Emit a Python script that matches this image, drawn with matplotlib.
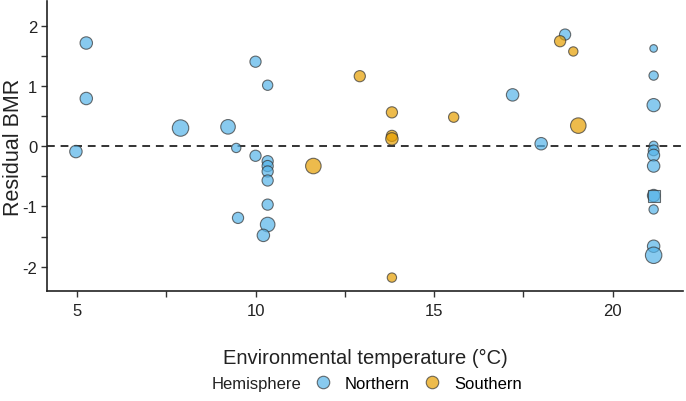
import matplotlib
matplotlib.use("Agg")
import matplotlib.pyplot as plt
from matplotlib.lines import Line2D

plt.rcParams['font.family'] = ['Liberation Sans', 'DejaVu Sans']

# Northern hemisphere points: temperature, residual BMR, relative size
north_temp = [4.97, 5.26, 5.26, 7.90, 9.23, 9.46, 10.0, 10.34, 10.0, 10.34, 10.34, 10.34,
              10.34, 10.34, 9.51, 10.34, 10.22, 17.20, 18.0, 18.67,
              21.15, 21.15, 21.15, 21.15, 21.15, 21.15, 21.15, 21.15, 21.15, 21.15, 21.15]
north_resid = [-0.09, 1.71, 0.79, 0.30, 0.32, -0.03, 1.40, 1.01, -0.16, -0.25, -0.33, -0.42,
               -0.57, -0.97, -1.19, -1.30, -1.48, 0.85, 0.04, 1.85,
               1.62, 1.17, 0.68, 0.01, -0.07, -0.15, -0.33, -0.82, -1.05, -1.66, -1.81]
north_size = [80, 80, 80, 140, 110, 45, 65, 55, 65, 65, 65, 65,
              65, 65, 65, 110, 80, 80, 80, 65,
              30, 45, 90, 40, 60, 75, 80, 80, 45, 80, 140]

# Southern hemisphere points
south_temp = [12.92, 13.82, 13.82, 13.82, 15.55, 11.62, 13.82, 18.53, 18.90, 19.04]
south_resid = [1.16, 0.56, 0.17, 0.12, 0.48, -0.33, -2.18, 1.74, 1.57, 0.34]
south_size = [65, 65, 65, 80, 55, 125, 45, 65, 45, 125]

# Square-shaped point
square_temp = [21.15]
square_resid = [-0.82]

x_ticks = [5, 10, 15, 20]
y_ticks = [-2, -1, 0, 1, 2]

blue = '#56B4E9'
orange = '#E69F00'

fig = plt.figure(figsize=(6.86, 4.02), dpi=100)
ax = fig.add_axes([0.0685, 0.274, 0.927, 0.72])

ax.axhline(0, color='#333333', lw=1.4, ls=(0, (4, 3)), zorder=1)

ax.scatter(north_temp, north_resid, s=north_size, c=blue, alpha=0.7,
           edgecolors='#333333', linewidths=0.8, zorder=3)
ax.scatter(south_temp, south_resid, s=south_size, c=orange, alpha=0.7,
           edgecolors='#333333', linewidths=0.8, zorder=3)
ax.scatter(square_temp, square_resid, s=80, marker='s', c=blue, alpha=0.7,
           edgecolors='#333333', linewidths=0.8, zorder=3)

ax.set_xlim(4.16, 21.97)
ax.set_ylim(-2.4, 2.4)
ax.set_xticks(x_ticks)
ax.set_xticks([7.5, 12.5, 17.5], minor=True)
ax.set_yticks(y_ticks)
ax.set_yticks([-1.5, -0.5, 0.5, 1.5], minor=True)
ax.set_yticklabels([str(v) for v in y_ticks])
ax.tick_params(axis='both', which='both', direction='out', length=4, width=1,
               color='#333333', labelsize=12, labelcolor='#222222')
ax.tick_params(axis='x', which='both', pad=5)
ax.tick_params(axis='y', which='both', pad=3)
for side in ['top', 'right']:
    ax.spines[side].set_visible(False)
for side in ['left', 'bottom']:
    ax.spines[side].set_linewidth(1.2)
    ax.spines[side].set_color('#222222')

fig.text(0.019, 0.274 + 0.72 / 2, 'Residual BMR', fontsize=15.5, color='#222222',
         rotation=90, ha='center', va='center')
ax.set_xlabel('Environmental temperature (°C)', fontsize=14.5, color='#222222', labelpad=21)

fig.text(0.309, 0.043, 'Hemisphere', fontsize=12, color='#222222', ha='left', va='center')
handles = [Line2D([], [], marker='o', ls='', markersize=9, markerfacecolor=blue, alpha=0.7,
                  markeredgecolor='#333333', markeredgewidth=0.8),
           Line2D([], [], marker='o', ls='', markersize=9, markerfacecolor=orange, alpha=0.7,
                  markeredgecolor='#333333', markeredgewidth=0.8)]
fig.legend(handles, ['Northern', 'Southern'], ncol=2, loc='center left',
           bbox_to_anchor=(0.459, 0.043), frameon=False, fontsize=12,
           borderaxespad=0, borderpad=0,
           handletextpad=0.8, columnspacing=0.84, handlelength=1.0)

fig.savefig('out.png', dpi=100)
